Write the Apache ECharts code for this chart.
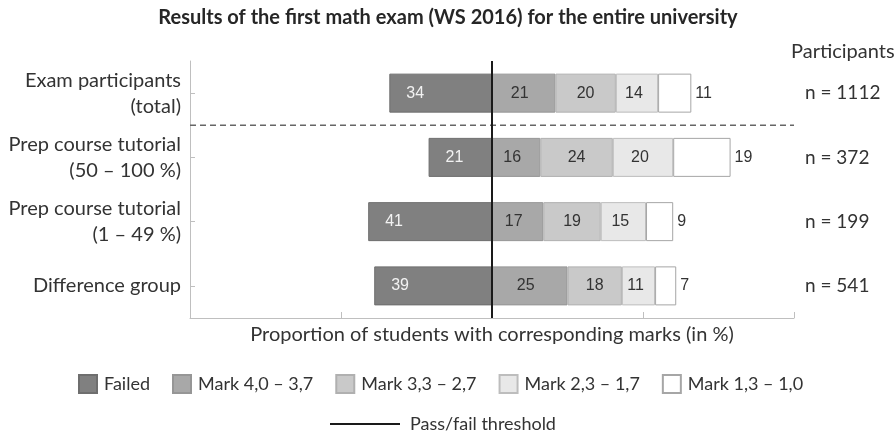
<!DOCTYPE html>
<html>
<head>
<meta charset="utf-8">
<script src="https://cdn.jsdelivr.net/npm/echarts@6/dist/echarts.min.js"></script>
<style>
html,body{margin:0;padding:0;background:#fff;}
#chart{width:896px;height:436px;}
</style>
</head>
<body>
<div id="chart"></div>
<script>
var categories = ['Exam participants\n(total)', 'Prep course tutorial\n(50 – 100 %)', 'Prep course tutorial\n(1 – 49 %)', 'Difference group'];
var failed = [34, 21, 41, 39];
var mark40 = [21, 16, 17, 25];
var mark33 = [20, 24, 19, 18];
var mark23 = [14, 20, 15, 11];
var mark13 = [11, 19, 9, 7];
var participants = [1112, 372, 199, 541];
var xTicks = [-100, -50, 0, 50, 100];

var FONT = 'Lato';
var NUMFONT = 'Liberation Sans';
var chart = echarts.init(document.getElementById('chart'));

function barSeries(name, values, color, border, labelOpt) {
  return {
    name: name,
    type: 'bar',
    stack: 'total',
    barWidth: 39,
    xAxisIndex: 0,
    yAxisIndex: 0,
    data: values,
    itemStyle: { color: color, borderColor: border, borderWidth: 1 },
    label: Object.assign({
      show: true,
      fontFamily: NUMFONT,
      fontSize: 16,
      color: '#333333'
    }, labelOpt),
    emphasis: { disabled: true }
  };
}

var option = {
  animation: false,
  title: [{
    text: 'Results of the first math exam (WS 2016) for the entire university',
    left: 'center',
    top: 3,
    textStyle: { fontFamily: FONT, fontWeight: 'bold', fontSize: 20, color: '#262626' }
  }, {
    text: 'Participants',
    left: 786,
    top: 37,
    textStyle: { fontFamily: FONT, fontWeight: 'normal', fontSize: 20, color: '#333333' }
  }],
  legend: [{
    data: ['Failed', 'Mark 4,0 – 3,7', 'Mark 3,3 – 2,7', 'Mark 2,3 – 1,7', 'Mark 1,3 – 1,0'],
    left: 73,
    top: 369,
    itemWidth: 18,
    itemHeight: 18,
    itemGap: 22,
    icon: 'rect',
    textStyle: { fontFamily: FONT, fontSize: 18, color: '#333333', padding: [0, 0, 0, 2] },
    selectedMode: false
  }, {
    data: [{ name: 'Pass/fail threshold', icon: 'rect' }],
    left: 325,
    top: 410,
    itemWidth: 70,
    itemHeight: 2,
    textStyle: { fontFamily: FONT, fontSize: 18, color: '#333333', padding: [0, 0, 0, 5] },
    selectedMode: false
  }],
  grid: { left: 190, right: 102, top: 61, bottom: 118 },
  xAxis: [{
    type: 'value',
    min: xTicks[0],
    max: xTicks[xTicks.length - 1],
    interval: 50,
    name: 'Proportion of students with corresponding marks (in %)',
    nameLocation: 'middle',
    nameGap: 7,
    nameTextStyle: { fontFamily: FONT, fontSize: 20, color: '#333333', verticalAlign: 'top' },
    axisLine: { show: true, onZero: false, lineStyle: { color: '#bfbfbf', width: 1 } },
    axisTick: { show: true, inside: true, length: 6, lineStyle: { color: '#bfbfbf' } },
    axisLabel: { show: false },
    splitLine: { show: false }
  }],
  yAxis: [{
    type: 'category',
    data: categories,
    inverse: true,
    position: 'left',
    axisLine: { show: true, onZero: false, lineStyle: { color: '#bfbfbf', width: 1 } },
    axisTick: { show: true, inside: true, alignWithLabel: true, length: 5, lineStyle: { color: '#bfbfbf' } },
    axisLabel: { fontFamily: FONT, fontSize: 20, color: '#333333', lineHeight: 26, margin: 9, align: 'right' }
  }, {
    type: 'category',
    data: participants.map(function (v) { return 'n = ' + v; }),
    inverse: true,
    position: 'right',
    axisLine: { show: false, onZero: false },
    axisTick: { show: false },
    axisLabel: { fontFamily: FONT, fontSize: 19, color: '#333333', margin: 11, align: 'left' }
  }, {
    type: 'value',
    min: 0,
    max: categories.length,
    inverse: true,
    show: false
  }],
  series: [
    barSeries('Failed', failed.map(function (v) { return -v; }), '#808080', '#6e6e6e', {
      position: 'insideLeft', distance: 17, color: '#f2f2f2',
      formatter: function (p) { return Math.abs(p.value); }
    }),
    barSeries('Mark 4,0 – 3,7', mark40, '#a8a8a8', '#969696', { position: 'inside', offset: [-4, 0] }),
    barSeries('Mark 3,3 – 2,7', mark33, '#c9c9c9', '#b0b0b0', { position: 'inside' }),
    barSeries('Mark 2,3 – 1,7', mark23, '#e8e8e8', '#bdbdbd', { position: 'inside', offset: [-3, 0] }),
    barSeries('Mark 1,3 – 1,0', mark13, '#ffffff', '#a6a6a6', { position: 'right', distance: 4 }),
    {
      name: 'separator',
      type: 'line',
      xAxisIndex: 0,
      yAxisIndex: 2,
      data: [[xTicks[0], 1], [xTicks[xTicks.length - 1], 1]],
      symbol: 'none',
      lineStyle: { color: '#666666', width: 1.5, type: [6, 4] },
      silent: true,
      z: 1
    },
    {
      name: 'Pass/fail threshold',
      type: 'line',
      xAxisIndex: 0,
      yAxisIndex: 2,
      data: [[0, 0], [0, categories.length]],
      symbol: 'none',
      itemStyle: { color: '#1a1a1a' },
      lineStyle: { color: '#1a1a1a', width: 2 },
      silent: true,
      z: 5
    }
  ]
};
chart.setOption(option);
</script>
</body>
</html>
